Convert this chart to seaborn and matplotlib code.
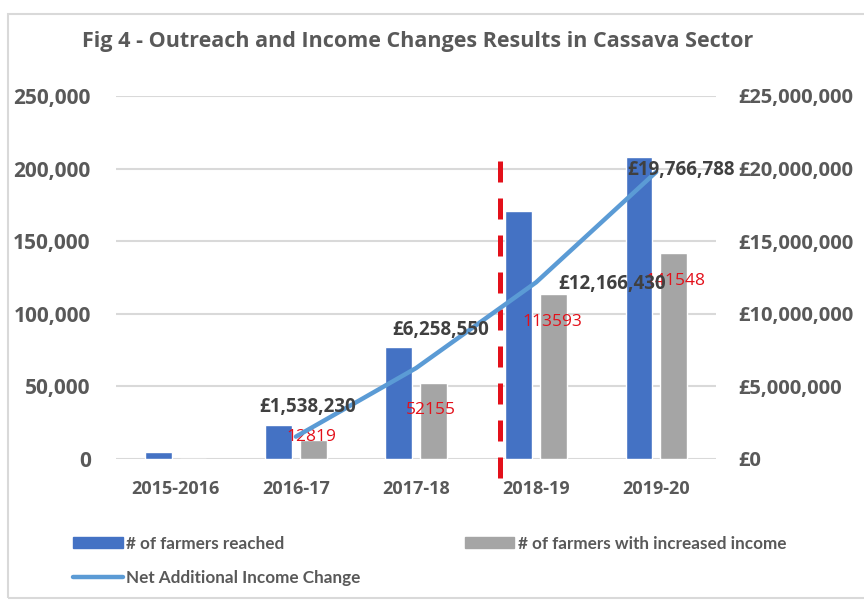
import numpy as np
import pandas as pd
import matplotlib
matplotlib.use("Agg")
import matplotlib.pyplot as plt
import seaborn as sns
from matplotlib.patches import Rectangle, Patch
from matplotlib.lines import Line2D
from matplotlib.ticker import FuncFormatter

# ---- data ----
years = ["2015-2016", "2016-17", "2017-18", "2018-19", "2019-20"]
farmers_reached = [5000, 23400, 77100, 170800, 208000]
farmers_increased = [0, 12819, 52155, 113593, 141548]
net_income = [np.nan, 1538230, 6258550, 12166430, 19766788]
income_labels = ["", "£1,538,230", "£6,258,550", "£12,166,430", "£19,766,788"]
increased_labels = ["", "12819", "52155", "113593", "141548"]

BLUE = "#4472C4"
GREY = "#A5A5A5"
LINE = "#5B9BD5"
RED = "#E3101A"
TXT = "#595959"

sns.set_theme(style="white")
plt.rcParams["font.family"] = ["Open Sans", "DejaVu Sans"]

bars = pd.DataFrame({
    "year": years * 2,
    "count": farmers_reached + farmers_increased,
    "series": ["# of farmers reached"] * 5 + ["# of farmers with increased income"] * 5,
})
line_df = pd.DataFrame({"pos": np.arange(len(years)), "income": net_income}).dropna()

fig = plt.figure(figsize=(8.64, 6.01), dpi=100)
ax = fig.add_axes([0.134, 0.2363, 0.695, 0.604])

sns.barplot(data=bars, x="year", y="count", hue="series", order=years,
            palette=[BLUE, GREY], width=0.58, gap=0.24, saturation=1,
            legend=False, ax=ax)
ax.set_xlim(-0.5, 4.5)
ax.set_ylim(0, 250000)
ax.set_yticks(np.arange(0, 250001, 50000))
ax.yaxis.set_major_formatter(FuncFormatter(lambda v, p: f"{int(v):,}"))
ax.grid(axis="y", color="#D9D9D9", linewidth=1.5)
ax.set_axisbelow(True)
ax.set_xlabel("")
ax.set_ylabel("")
for s in ax.spines.values():
    s.set_visible(False)
ax.tick_params(axis="y", length=0, pad=18, labelsize=15, labelcolor=TXT)
ax.tick_params(axis="x", length=0, pad=15, labelsize=13, labelcolor=TXT)
for lab in ax.get_yticklabels() + ax.get_xticklabels():
    lab.set_fontweight("bold")

ax2 = ax.twinx()
sns.lineplot(data=line_df, x="pos", y="income", color=LINE, linewidth=3.2,
             ax=ax2, legend=False)
ax2.set_ylim(0, 25000000)
ax2.set_xlim(-0.5, 4.5)
ax2.set_yticks(np.arange(0, 25000001, 5000000))
ax2.yaxis.set_major_formatter(FuncFormatter(lambda v, p: f"£{int(v):,}"))
ax2.set_ylabel("")
ax2.set_xlabel("")
for s in ax2.spines.values():
    s.set_visible(False)
ax2.tick_params(axis="y", length=0, pad=16, labelsize=14.5, labelcolor=TXT)
for lab in ax2.get_yticklabels():
    lab.set_fontweight("bold")

# vertical dashed marker between 2017-18 and 2018-19
ax.plot([2.7, 2.7], [205000, -17000], color=RED, linewidth=3.6,
        linestyle=(0, (4.2, 3.2)), clip_on=False, zorder=5)

# income labels near line points
inc_offsets = [None, (12, 30), (25, 38), (76, -2), (25, 2)]
for i, (val, lab, off) in enumerate(zip(net_income, income_labels, inc_offsets)):
    if off is None:
        continue
    ax2.annotate(lab, xy=(i, val), xytext=off, textcoords="offset pixels",
                 ha="center", va="center", fontsize=13.5, fontweight="bold",
                 color="#404040", zorder=6)

# counts of farmers with increased income
cnt_offsets = [None, (-2, 3), (-3, -27), (-1, -28), (2, -28)]
for i, (val, lab, off) in enumerate(zip(farmers_increased, increased_labels, cnt_offsets)):
    if off is None:
        continue
    ax.annotate(lab, xy=(i + 0.145, val), xytext=off, textcoords="offset pixels",
                ha="center", va="center", fontsize=12.5, color=RED, zorder=6)

fig.suptitle("Fig 4 - Outreach and Income Changes Results in Cassava Sector",
             x=0.483, y=0.948, fontsize=15.5, fontweight="bold", color=TXT)

handles = [Patch(color=BLUE), Line2D([], [], color=LINE, linewidth=3.2), Patch(color=GREY)]
labels = ["# of farmers reached", "Net Additional Income Change", "# of farmers with increased income"]
fig.legend(handles, labels, ncol=2, loc="upper left", bbox_to_anchor=(0.067, 0.134),
           frameon=False, prop={"family": "Lato", "size": 12.3, "weight": "bold"},
           labelcolor=TXT, handlelength=2.9, handleheight=0.6, handletextpad=0.2,
           columnspacing=6.1, labelspacing=1.05)

fig.patches.append(Rectangle((8 / 864, 1 - 598 / 601), 1.1, (598 - 14) / 601,
                             transform=fig.transFigure, fill=False,
                             edgecolor="#D9D9D9", linewidth=1.5))

fig.savefig("out.png", dpi=100)
